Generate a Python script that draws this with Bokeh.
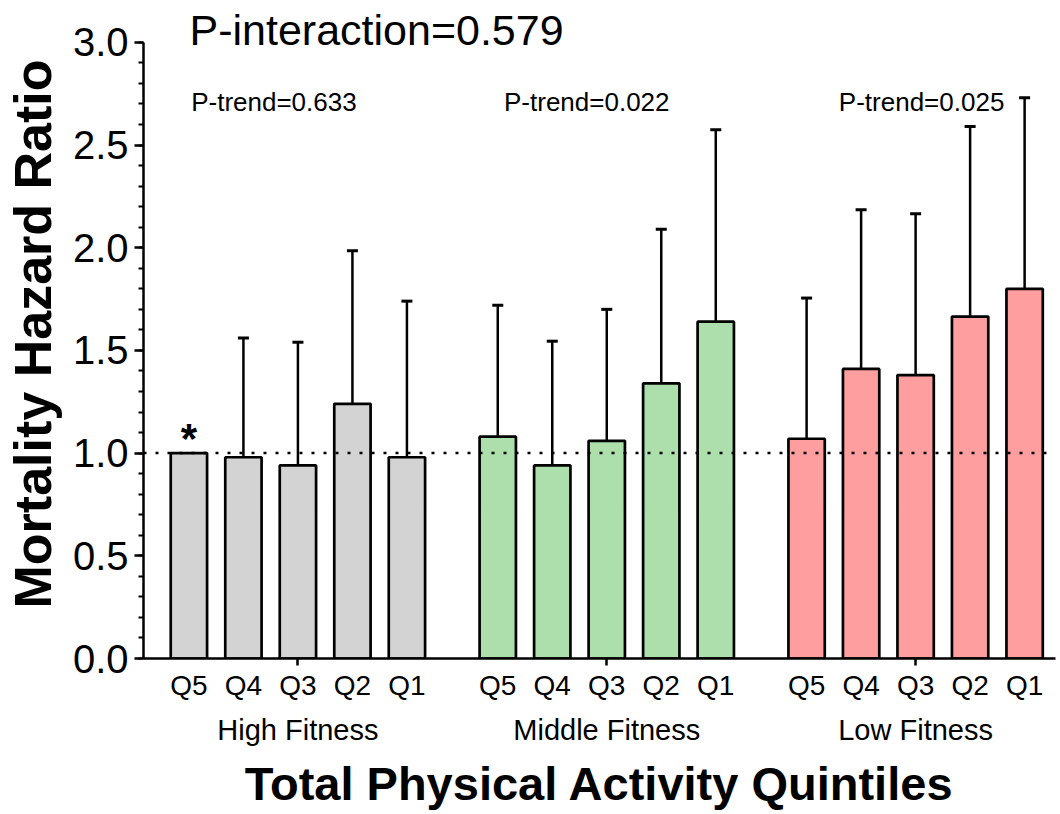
from bokeh.plotting import figure
from bokeh.models import (ColumnDataSource, Range1d, FixedTicker, LinearAxis, Whisker,
                          TeeHead, Span, Label, PrintfTickFormatter)
from bokeh.core.properties import value
from bokeh.embed import file_html
from bokeh.resources import INLINE

# ---------------- data ----------------
groups = ["High Fitness", "Middle Fitness", "Low Fitness"]
quintiles = ["Q5", "Q4", "Q3", "Q2", "Q1"]

high_hr = [1.00, 0.98, 0.94, 1.24, 0.98]
high_lo = [None, 0.615, 0.57, 0.765, 0.55]
high_hi = [None, 1.56, 1.54, 1.985, 1.74]

mid_hr = [1.08, 0.94, 1.06, 1.34, 1.64]
mid_lo = [0.67, 0.575, 0.66, 0.86, 1.04]
mid_hi = [1.72, 1.545, 1.70, 2.09, 2.575]

low_hr = [1.07, 1.41, 1.38, 1.665, 1.80]
low_lo = [0.655, 0.91, 0.88, 1.065, 1.185]
low_hi = [1.755, 2.185, 2.165, 2.59, 2.73]

high_marks = ["*", "", "", "", ""]

p_trend = ["P-trend=0.633", "P-trend=0.022", "P-trend=0.025"]
p_interaction = "P-interaction=0.579"

y_ticks = [0.0, 0.5, 1.0, 1.5, 2.0, 2.5, 3.0]
reference_hr = 1.0

colors = ["#d3d3d3", "#addfad", "#ff9e9e"]

# ---------------- layout helpers ----------------
BAR_STEP = 3
GROUP_STEP = 17
FONT = "Liberation Sans"

hr_all = [high_hr, mid_hr, low_hr]
lo_all = [high_lo, mid_lo, low_lo]
hi_all = [high_hi, mid_hi, low_hi]

p = figure(frame_width=912, frame_height=649, output_backend="svg", toolbar_location=None,
           x_range=Range1d(-2.5, 47.7), y_range=Range1d(0, 3.16),
           min_border_left=134, min_border_right=4, min_border_top=9, min_border_bottom=110)
p.outline_line_color = None
p.xgrid.visible = False
p.ygrid.visible = False
p.background_fill_color = "white"

bar_pos = []
bar_labels = {}
group_centers = []
for g in range(len(groups)):
    xs = [GROUP_STEP * g + BAR_STEP * i for i in range(len(quintiles))]
    bar_pos += xs
    for x, q in zip(xs, quintiles):
        bar_labels[x] = q
    group_centers.append(GROUP_STEP * g + BAR_STEP * (len(quintiles) - 1) // 2)
    src = ColumnDataSource(dict(x=xs, top=hr_all[g]))
    p.vbar(x="x", top="top", bottom=0, width=2.0, source=src,
           fill_color=colors[g], line_color="black", line_width=2.7)
    wx, wl, wh = [], [], []
    for x, lo, hi in zip(xs, lo_all[g], hi_all[g]):
        if lo is not None and hi is not None:
            wx.append(x); wl.append(lo); wh.append(hi)
    wsrc = ColumnDataSource(dict(x=wx, lo=wl, hi=wh))
    p.add_layout(Whisker(base="x", lower="lo", upper="hi", source=wsrc,
                         line_color="black", line_width=2.5,
                         upper_head=TeeHead(size=11, line_width=3, line_color="black"),
                         lower_head=TeeHead(size=11, line_width=3, line_color="black")))

# reference marker
msrc = ColumnDataSource(dict(x=[BAR_STEP * i for i in range(len(quintiles))], y=high_hr, t=high_marks))
p.text(x="x", y="y", text="t", source=msrc, text_align="center", text_baseline="alphabetic",
       y_offset=-15, text_font=value(FONT), text_font_style="bold", text_font_size="42px",
       text_color="black")

# reference line
p.add_layout(Span(location=reference_hr, dimension="width", line_color="black",
                  line_width=2.5, line_dash="3 9"))

# texts
p.add_layout(Label(x=-2.5, y=3.06, x_offset=46, text=p_interaction,
                   text_font=FONT, text_font_size="43px", text_baseline="alphabetic",
                   text_color="black"))
trend_dx = [-24, -20, 6]
for g in range(len(groups)):
    p.add_layout(Label(x=group_centers[g], y=2.71, x_offset=trend_dx[g], text=p_trend[g],
                       text_font=FONT, text_font_size="26px", text_align="center",
                       text_baseline="alphabetic", text_color="black"))

# y axis
ya = p.yaxis[0]
ya.bounds = (0, 3.0)
ya.ticker = FixedTicker(ticks=y_ticks, minor_ticks=[round(0.1 * k, 1) for k in range(31)])
ya.formatter = PrintfTickFormatter(format="%.1f")
ya.axis_label = "Mortality Hazard Ratio"
ya.axis_label_text_font = FONT
ya.axis_label_text_font_style = "bold"
ya.axis_label_text_font_size = "52px"
ya.axis_label_text_color = "black"
ya.axis_label_standoff = 8
ya.major_label_text_font = FONT
ya.major_label_text_font_size = "40px"
ya.major_label_text_color = "black"
ya.major_label_standoff = 6
ya.axis_line_width = 2.5
ya.major_tick_line_width = 2.5
ya.minor_tick_line_width = 2
ya.major_tick_in = 0
ya.major_tick_out = 9
ya.minor_tick_in = 0
ya.minor_tick_out = 5

# x axis (quintile labels)
xa = p.xaxis[0]
xa.ticker = FixedTicker(ticks=bar_pos, minor_ticks=group_centers)
xa.major_label_overrides = bar_labels
xa.major_label_text_font = FONT
xa.major_label_text_font_size = "28px"
xa.major_label_text_color = "black"
xa.major_label_standoff = 4
xa.axis_line_width = 2.5
xa.major_tick_line_color = None
xa.major_tick_in = 0
xa.major_tick_out = 0
xa.minor_tick_in = 0
xa.minor_tick_out = 7
xa.minor_tick_line_width = 2.5

# second x axis (group labels + title)
xa2 = LinearAxis(ticker=FixedTicker(ticks=group_centers, minor_ticks=[]),
                 major_label_overrides={c: n for c, n in zip(group_centers, groups)})
xa2.axis_line_color = None
xa2.major_tick_line_color = None
xa2.minor_tick_line_color = None
xa2.major_tick_in = 0
xa2.major_tick_out = 0
xa2.major_label_text_font = FONT
xa2.major_label_text_font_size = "29px"
xa2.major_label_text_color = "black"
xa2.major_label_standoff = 10
xa2.axis_label = "Total Physical Activity Quintiles"
xa2.axis_label_text_font = FONT
xa2.axis_label_text_font_style = "bold"
xa2.axis_label_text_font_size = "47px"
xa2.axis_label_text_color = "black"
xa2.axis_label_standoff = 8
p.add_layout(xa2, "below")

open("out.html", "w").write(file_html(p, INLINE))
